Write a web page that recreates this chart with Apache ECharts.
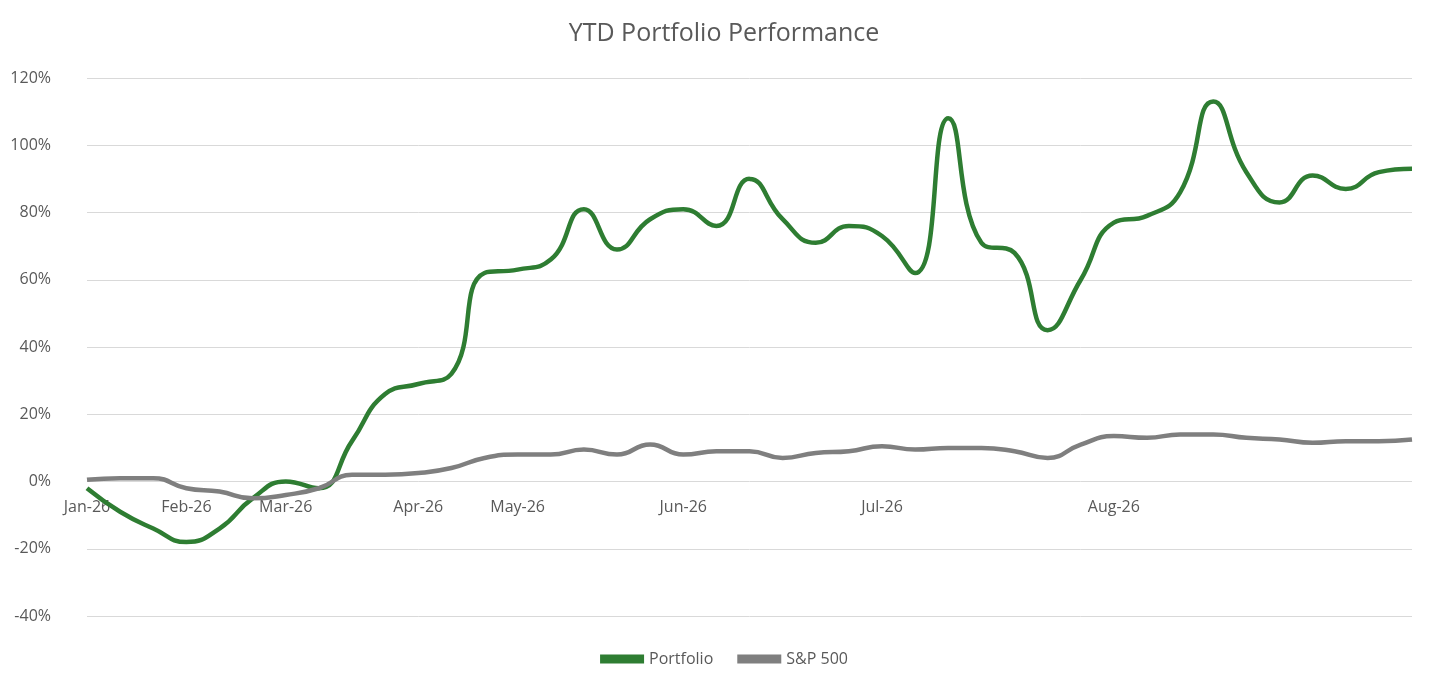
<!DOCTYPE html>
<html><head><meta charset="utf-8">
<script src="https://cdn.jsdelivr.net/npm/echarts@6/dist/echarts.min.js"></script>
<style>html,body{margin:0;background:#fff}#c{width:1448px;height:684px}</style>
</head><body><div id="c"></div>
<script>
const labels = ['Jan-26','','','Feb-26','','','Mar-26','','','','Apr-26','','','May-26','','','','','Jun-26','','','','','','Jul-26','','','','','','','Aug-26','','','','','','','','',''];
const portfolio = [-2,-9,-14,-18,-14,-5,0,-2,12,26,29,32,62,63,66,81,69,78,81,76,90,78,71,76,73,62,108,71,68,45,60,77,79,86,113,92,83,91,87,92,93];
const sp500 = [0.5,1,1,-2,-3,-5,-4,-2,2,2,2.5,4,7,8,8,9.5,8,11,8,9,9,7,8.5,9,10.5,9.5,10,10,9,7,11,13.5,13,14,14,13,12.5,11.5,12,12,12.5];

const chart = echarts.init(document.getElementById('c'));
chart.setOption({
  animation: false,
  textStyle: { fontFamily: 'Open Sans, Calibri, sans-serif' },
  title: { text: 'YTD Portfolio Performance', left: 'center', top: 16,
    textStyle: { fontSize: 25, fontWeight: 'normal', color: '#595959' } },
  grid: { left: 87, right: 36, top: 78, bottom: 68 },
  legend: { bottom: 12, itemWidth: 44, itemGap: 24, icon: 'path://M0,0H10V2H0Z',
    textStyle: { fontSize: 16, color: '#595959' } },
  xAxis: { type: 'category', data: labels, boundaryGap: false, offset: -135,
    axisLine: { show: false }, axisTick: { show: false },
    axisLabel: { interval: 0, fontSize: 16, color: '#595959', margin: 18 } },
  yAxis: { type: 'value', min: -40, max: 120, interval: 20,
    axisLabel: { formatter: '{value}%', fontSize: 16, color: '#595959', margin: 36 },
    splitLine: { lineStyle: { color: '#d9d9d9' } }, axisLine: { show: false } },
  series: [
    { name: 'Portfolio', type: 'line', data: portfolio, smooth: 0.5, symbol: 'none',
      lineStyle: { width: 4.5, color: '#2e7d32' }, itemStyle: { color: '#2e7d32' } },
    { name: 'S&P 500', type: 'line', data: sp500, smooth: 0.5, symbol: 'none',
      lineStyle: { width: 4.5, color: '#7f7f7f' }, itemStyle: { color: '#7f7f7f' } }
  ]
});
</script></body></html>
